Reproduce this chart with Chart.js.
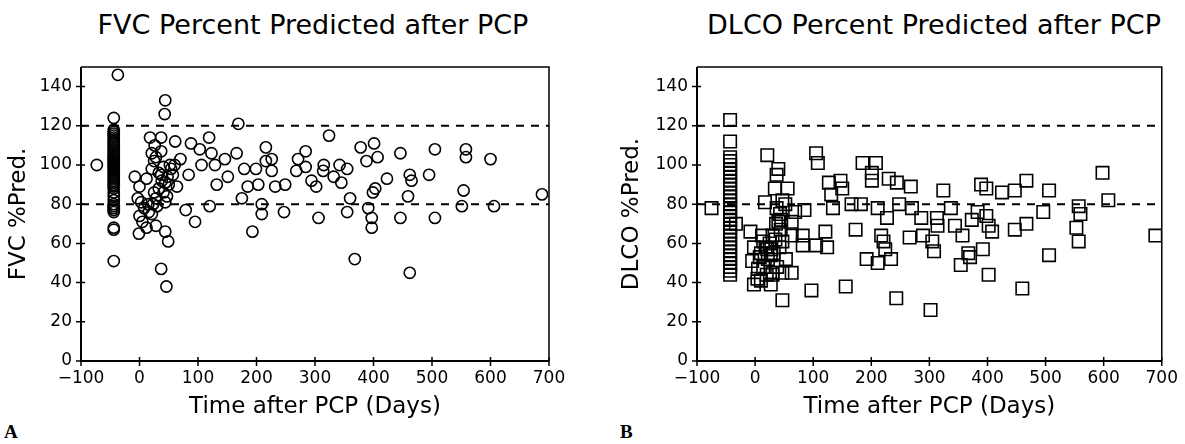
<!DOCTYPE html>
<html>
<head>
<meta charset="utf-8">
<script src="https://cdn.jsdelivr.net/npm/chart.js@4.4.0/dist/chart.umd.min.js"></script>
<style>
  body { margin: 0; background: #fff; width: 1185px; height: 444px; overflow: hidden; position: relative; }
  .panel { position: absolute; top: 0; height: 444px; }
  #wrapA { left: 0; width: 592px; }
  #wrapB { left: 592px; width: 593px; }
  .title { position: absolute; top: 9px; width: 600px; text-align: center; font: 27px "DejaVu Sans"; line-height: 32px; color: #000; white-space: nowrap; }
  .tag { position: absolute; top: 421px; font: bold 19px "Liberation Serif"; color: #000; }
</style>
</head>
<body>
<div class="title" style="left:13px">FVC Percent Predicted after PCP</div>
<div class="title" style="left:634px">DLCO Percent Predicted after PCP</div>
<div class="tag" style="left:4px">A</div>
<div class="tag" style="left:620px">B</div>
<div class="panel" id="wrapA"><canvas id="chartA"></canvas></div>
<div class="panel" id="wrapB"><canvas id="chartB"></canvas></div>
<script>
// reference lines (normal range)
const refLines = [80, 120];
const xTicks = [-100, 0, 100, 200, 300, 400, 500, 600, 700];
const yTicks = [0, 20, 40, 60, 80, 100, 120, 140];

// FVC %pred vs days after PCP
// baseline column (measured before PCP, day -44)
const fvcBaseDays = [
  -44, -44, -44, -44, -44, -44, -44, -44, -44, -44, -44, -44, -44, -44, -44, -44, -44, -44, -44, -44, -44,
  -44, -44, -44, -44, -44, -44, -44, -44, -44, -44, -44, -44, -44, -44, -44, -44, -44, -44, -44, -44, -44, -44
];
const fvcBasePct = [
  124, 118, 117, 116, 115, 114, 113, 112, 111, 110, 109, 108, 107, 106, 105, 104, 103, 102, 101, 100, 99,
  98, 97, 96, 95, 94, 93, 92, 91, 90, 89, 88, 86, 84, 82, 80, 79, 78, 77, 76, 68, 67, 51
];
const fvcDays = [
  -73, -37,
  -8, 0, -3, 3, 0, 5, -1, 12, 15, 18, 21, 25, 21, 25, 28, 21, 28, 12, 37, 37, 41, 37, 44, 41, 44, 37,
  46, 44, 43, 44, 49, 54, 57, 61, 64, 70, 79, 84, 88, 95, 103, 106, 119, 123, 129, 132, 120, 146, 151,
  166, 169, 175, 179, 185, 193, 199, 203, 209, 209, 216, 216, 226, 226, 232, 249, 247, 268, 271, 284,
  284, 294, 302, 306, 314, 315, 324, 332, 342, 345, 355, 360, 355, 368, 378, 388, 391, 397, 397, 399,
  403, 401, 407, 423, 446, 446, 459, 462, 465, 462, 495, 505, 505, 551, 554, 558, 558, 600, 606, 688,
  28, 33, 38, 48, 52, 47, 30, 23, 8, 16, 33, 50, 60, 26
];
const fvcPct = [
  100, 146,
  94, 89, 83, 81, 74, 71, 65, 93, 80, 114, 106, 102, 98, 86, 83, 75, 69, 68, 114, 107, 99, 95, 91, 86, 81, 47,
  38, 133, 126, 66, 61, 98, 95, 112, 89, 103, 77, 95, 111, 71, 108, 100, 114, 106, 100, 90, 79, 103, 94,
  106, 121, 83, 98, 89, 66, 98, 90, 80, 75, 109, 102, 103, 97, 89, 90, 76, 97, 103, 107,
  99, 92, 89, 73, 97, 100, 115, 94, 100, 91, 98, 83, 76, 52, 109, 102, 78, 73, 68, 86,
  88, 111, 104, 93, 106, 73, 84, 95, 92, 45, 95, 108, 73, 79, 87, 108, 104, 103, 79, 85,
  104, 96, 92, 94, 100, 84, 79, 80, 78, 76, 88, 90, 100, 110
];

// DLCO %pred vs days after PCP
const dlcoBaseDays = [
  -43, -43, -43, -43, -43, -43, -43, -43, -43, -43, -43, -43, -43, -43, -43, -43,
  -43, -43, -43, -43, -43, -43, -43, -43, -43, -43, -43, -43, -43, -43, -43, -43, -43
];
const dlcoBasePct = [
  123, 112,
  104, 102, 100, 98, 96, 94, 92, 90, 88, 86, 84, 82, 80, 78, 76, 74,
  72, 70, 68, 66, 64, 62, 60, 58, 56, 54, 52, 50, 48, 46, 44
];
const dlcoDays = [
  -75,
  -33, -8, -2, -5, -2, 4, 21, 17, 14, 21, 27, 30, 34, 37, 40, 37, 40, 43, 47, 56, 47, 30, 27, 47, 47,
  53, 63, 63, 69, 63, 82, 85, 82, 105, 97, 105, 108, 121, 124, 127, 131, 134, 147, 150, 156, 166,
  173, 182, 185, 201, 201, 208, 211, 217, 221, 224, 192, 211, 234, 230, 227, 248, 244, 268, 266,
  243, 270, 286, 289, 302, 305, 308, 313, 314, 324, 337, 344, 357, 354, 367, 370, 373, 383, 392,
  389, 398, 398, 402, 408, 402, 425, 447, 447, 467, 467, 460, 496, 506, 506, 553, 557, 560, 557,
  598, 608, 689,
  5, 10, 14, 18, 22, 25, 28, 32, 35, 38, 42, 44, 20, 10, 30, 36, 45, 52, 12, 8
];
const dlcoPct = [
  78,
  70, 66, 58, 51, 39, 42, 105, 81, 61, 57, 54, 64, 88, 95, 98, 78, 71, 75, 82, 88, 61, 45, 39, 31, 45,
  52, 45, 64, 76, 71, 64, 77, 59, 59, 36, 106, 101, 66, 58, 91, 85, 78, 92, 88, 38, 80,
  67, 80, 101, 96, 92, 101, 78, 64, 61, 57, 52, 50, 52, 93, 73, 80, 91, 89, 63,
  32, 78, 73, 64, 26, 61, 56, 73, 69, 87, 78, 69, 64, 49, 55, 53, 72, 76, 57,
  90, 88, 74, 69, 66, 44, 86, 87, 67, 92, 70, 37, 76, 87, 54, 68, 79, 75, 61,
  96, 82, 64,
  47, 55, 48, 58, 52, 60, 57, 55, 62, 48, 58, 67, 44, 41, 44, 70, 72, 80, 64, 53
];

// dashed lines + crossing tick marks + box frame
const framePlugin = {
  id: 'frame',
  beforeDatasetsDraw(chart) {
    const { ctx, chartArea: a, scales } = chart;
    ctx.save();
    ctx.strokeStyle = '#000';
    ctx.lineWidth = 1.5;
    ctx.beginPath();
    ctx.moveTo(a.left, a.top); ctx.lineTo(a.right, a.top); ctx.lineTo(a.right, a.bottom);
    ctx.stroke();
    ctx.lineWidth = 2;
    ctx.beginPath();
    ctx.moveTo(a.left, a.top); ctx.lineTo(a.left, a.bottom); ctx.lineTo(a.right, a.bottom);
    ctx.stroke();
    ctx.lineWidth = 1.5;
    ctx.beginPath();
    yTicks.forEach(v => {
      const y = scales.y.getPixelForValue(v);
      ctx.moveTo(a.left - 5, y); ctx.lineTo(a.left + 4, y);
    });
    xTicks.forEach(v => {
      const x = scales.x.getPixelForValue(v);
      ctx.moveTo(x, a.bottom - 4); ctx.lineTo(x, a.bottom + 5);
    });
    ctx.stroke();
    ctx.restore();
  }
};

function minusFmt(v) {
  return v < 0 ? '\u2212' + Math.abs(v) : String(v);
}

function toPoints(days, pct) {
  return days.map((d, i) => ({ x: d, y: pct[i] }));
}

function makeChart(id, points, marker, radius, yTitle, yWidth, yTitlePad, padRight) {
  const lineSets = refLines.map(v => ({
    data: [{ x: -100, y: v }, { x: 700, y: v }],
    showLine: true,
    borderColor: '#000',
    borderWidth: 2,
    borderDash: [8, 7],
    pointRadius: 0,
    pointHoverRadius: 0
  }));
  return new Chart(document.getElementById(id), {
    type: 'scatter',
    data: {
      datasets: [...lineSets, {
        data: points,
        pointStyle: marker,
        pointRadius: radius,
        pointHoverRadius: radius,
        pointBorderWidth: 1.6,
        pointBorderColor: '#000',
        pointBackgroundColor: 'rgba(0,0,0,0)'
      }]
    },
    options: {
      responsive: true,
      maintainAspectRatio: false,
      animation: false,
      events: [],
      layout: { padding: { top: 67, right: padRight, bottom: 0, left: 0 } },
      plugins: { legend: { display: false }, tooltip: { enabled: false } },
      scales: {
        x: {
          type: 'linear',
          min: -100, max: 700,
          border: { display: false },
          grid: { display: false, drawTicks: false },
          ticks: { stepSize: 100, padding: 7, color: '#000', font: { family: 'DejaVu Sans', size: 17 }, callback: minusFmt },
          title: { display: true, text: 'Time after PCP (Days)', color: '#000', font: { family: 'DejaVu Sans', size: 23 }, padding: { top: 23, bottom: 23 } },
          afterFit(s) { s.height = 83; }
        },
        y: {
          min: 0, max: 150,
          border: { display: false },
          grid: { display: false, drawTicks: false },
          ticks: { stepSize: 20, includeBounds: false, padding: 9, color: '#000', font: { family: 'DejaVu Sans', size: 17 },
                   callback: v => (v > 140 ? '' : minusFmt(v)) },
          title: { display: true, text: yTitle, color: '#000', font: { family: 'DejaVu Sans', size: 23 }, padding: { top: yTitlePad, bottom: 0 } },
          afterFit(s) { s.width = yWidth; }
        }
      }
    },
    plugins: [framePlugin]
  });
}

makeChart('chartA', toPoints(fvcBaseDays, fvcBasePct).concat(toPoints(fvcDays, fvcPct)),
  'circle', 5.6, 'FVC %Pred.', 81, 5, 43);
makeChart('chartB', toPoints(dlcoBaseDays, dlcoBasePct).concat(toPoints(dlcoDays, dlcoPct)),
  'rect', 8.8, 'DLCO %Pred.', 105, 26, 18);
</script>
</body>
</html>
